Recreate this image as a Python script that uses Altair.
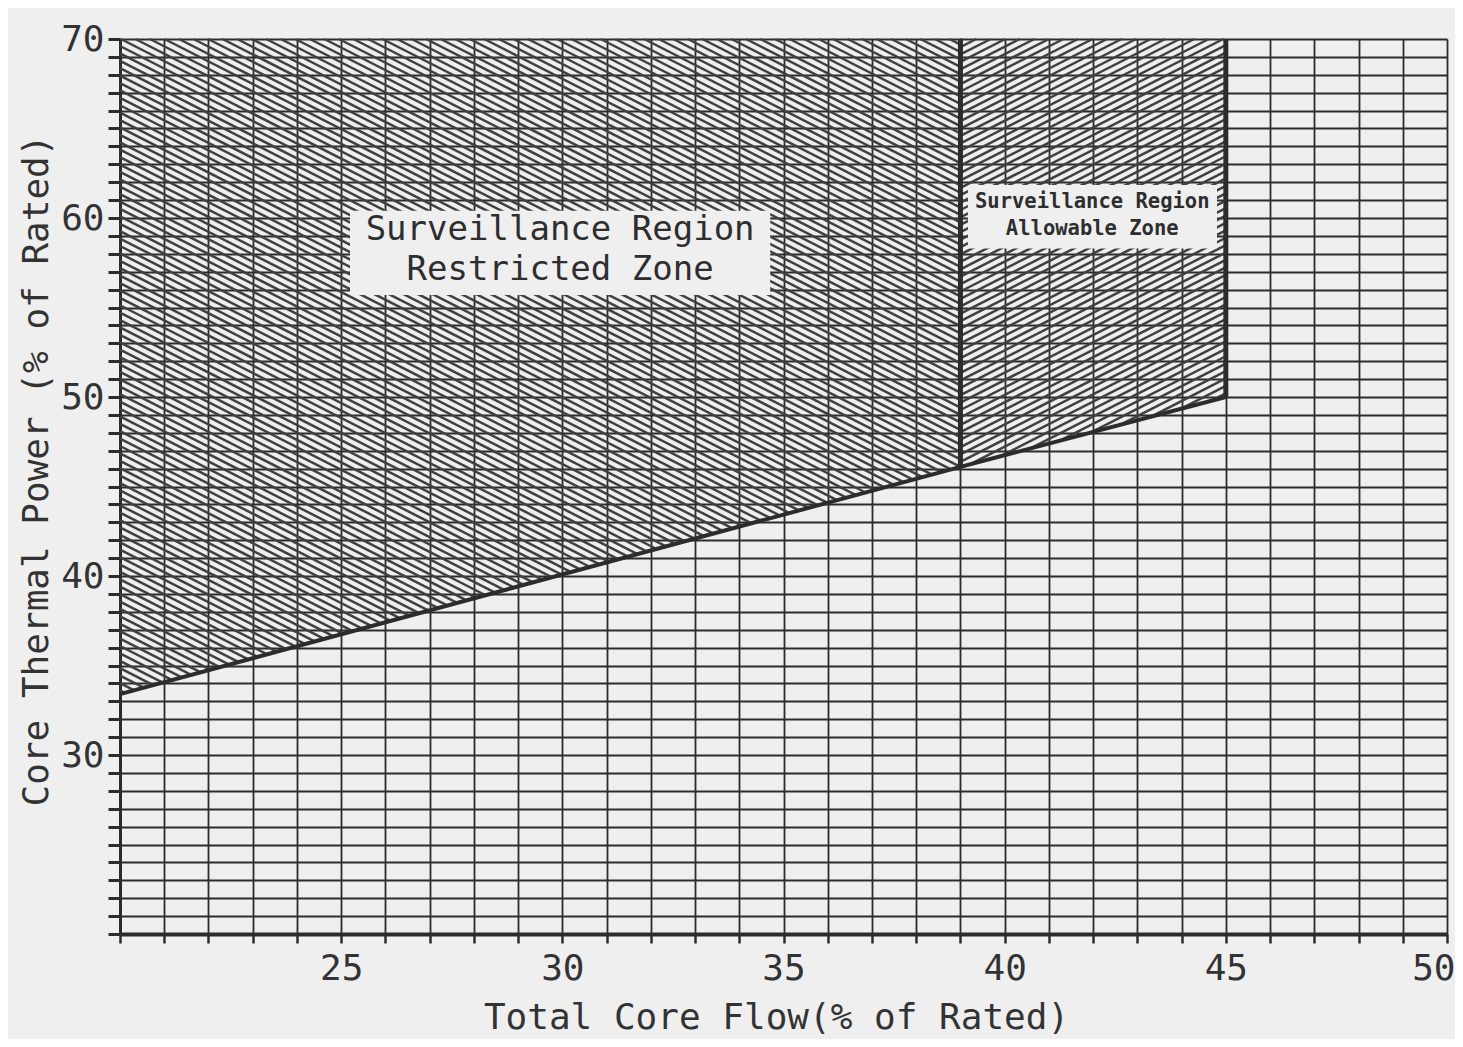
import altair as alt
import pandas as pd
import numpy as np

# ---------------- data ----------------
boundary_flow = [20, 39, 45]          # Total core flow (% of rated)
boundary_power = [33.4, 46.1, 50.0]   # Core thermal power (% of rated)
power_top = 70

x_ticks = list(range(20, 51))
y_ticks = list(range(20, 71))
x_labels = [25, 30, 35, 40, 45, 50]
y_labels = [30, 40, 50, 60, 70]

# annotation boxes (data coordinates)
box_x = [25.2, 39.17]
box_x2 = [34.7, 44.8]
box_y = [55.7, 58.3]
box_y2 = [60.4, 61.85]

text_lines = ["Surveillance Region", "Restricted Zone",
              "Surveillance Region", "Allowable Zone"]
text_x = [29.95, 29.95, 41.98, 41.98]
text_y = [59.33, 57.09, 60.9, 59.4]
text_group = ["big", "big", "small", "small"]

# ---------------- layout / style ----------------
W, H = 1327, 895
XD, YD = (20, 50), (20, 70)
BG = "#efefef"
INK = "#2c2c2c"
HATCH = "#404040"
FONT = "DejaVu Sans Mono"
px_x = W / (XD[1] - XD[0])
px_y = H / (YD[1] - YD[0])


def hatch_segments(xa, xb, ya, yb, top, slash, spacing=6.6, angle=27):
    """Hatch strokes clipped to the zone xa..xb between the boundary line and top."""
    th = np.radians(angle)
    m = np.tan(th) * px_x / px_y * (1 if slash else -1)   # slope in data units
    sb = (yb - ya) / (xb - xa)
    dc = spacing / np.cos(th) / px_y
    verts = [(xa, ya), (xb, yb), (xa, top), (xb, top)]
    cs = [vy - m * (vx - xa) for vx, vy in verts]
    cmin, cmax = min(cs), max(cs)
    rows = []
    c = cmin + dc * 0.5
    while c < cmax:
        lo, hi = 0.0, xb - xa
        if m > 0:
            hi = min(hi, (top - c) / m)
        else:
            lo = max(lo, (top - c) / m)
        d = m - sb
        if d > 0:
            lo = max(lo, (ya - c) / d)
        elif d < 0:
            hi = min(hi, (ya - c) / d)
        if hi > lo:
            rows.append({"x": xa + lo, "y": c + m * lo, "x2": xa + hi, "y2": c + m * hi})
        c += dc
    return pd.DataFrame(rows)


hatch_left = hatch_segments(boundary_flow[0], boundary_flow[1],
                            boundary_power[0], boundary_power[1], power_top, slash=False)
hatch_right = hatch_segments(boundary_flow[1], boundary_flow[2],
                             boundary_power[1], boundary_power[2], power_top, slash=True)
hatch_df = pd.concat([hatch_left, hatch_right], ignore_index=True)

bnd = pd.DataFrame({"flow": boundary_flow, "power": boundary_power, "top": power_top})

xs = alt.Scale(domain=list(XD), nice=False, zero=False)
ys = alt.Scale(domain=list(YD), nice=False, zero=False)

xlab = ",".join(str(v) for v in x_labels)
ylab = ",".join(str(v) for v in y_labels)

x_axis = alt.Axis(values=x_ticks, tickCount=len(x_ticks), grid=True, gridColor=INK,
                  gridWidth=1.8, tickSize=9, tickWidth=2.5, tickColor=INK,
                  domainColor=INK, domainWidth=4,
                  labelExpr=f"indexof([{xlab}], datum.value) >= 0 ? datum.label : ''",
                  labelFlush=True, labelFlushOffset=8, labelOverlap=False, labelFont=FONT,
                  labelFontSize=36, labelColor="#333", labelPadding=8,
                  title="Total Core Flow(% of Rated)", titleFont=FONT,
                  titleFontSize=36, titleFontWeight="normal", titleColor="#333",
                  titleX=656, titleY=94, titleBaseline="alphabetic", titleAlign="center")
y_axis = alt.Axis(values=y_ticks, tickCount=len(y_ticks), grid=True, gridColor=INK,
                  gridWidth=1.8, tickSize=12, tickWidth=3, tickColor=INK,
                  domainColor=INK, domainWidth=3,
                  labelExpr=f"indexof([{ylab}], datum.value) >= 0 ? datum.label : ''",
                  labelFlush=False, labelOverlap=False, labelFont=FONT,
                  labelFontSize=36, labelColor="#333", labelPadding=4,
                  title="Core Thermal Power (% of Rated)", titleFont=FONT,
                  titleFontSize=36, titleFontWeight="normal", titleColor="#333",
                  titleX=-73, titleY=431, titleBaseline="alphabetic", titleAlign="center",
                  titleAngle=270)

hatch = alt.Chart(hatch_df).mark_rule(color=HATCH, strokeWidth=2.5, strokeCap="butt").encode(
    x=alt.X("x:Q", scale=xs, axis=x_axis),
    y=alt.Y("y:Q", scale=ys, axis=y_axis),
    x2="x2:Q", y2="y2:Q",
)

line = alt.Chart(bnd).mark_line(color=INK, strokeWidth=4).encode(
    x=alt.X("flow:Q", scale=xs), y=alt.Y("power:Q", scale=ys))

walls = alt.Chart(bnd.iloc[1:3]).mark_rule(color=INK, strokeWidth=5).encode(
    x=alt.X("flow:Q", scale=xs), y=alt.Y("power:Q", scale=ys), y2="top:Q")

boxes = alt.Chart(pd.DataFrame({"x": box_x, "x2": box_x2, "y": box_y, "y2": box_y2})
                  ).mark_rect(fill=BG).encode(
    x=alt.X("x:Q", scale=xs), x2="x2:Q", y=alt.Y("y:Q", scale=ys), y2="y2:Q")

tdf = pd.DataFrame({"t": text_lines, "x": text_x, "y": text_y, "g": text_group})
big_text = alt.Chart(tdf[tdf.g == "big"]).mark_text(
    font=FONT, fontSize=34, color="#2e2e2e", align="center", baseline="middle"
).encode(x=alt.X("x:Q", scale=xs), y=alt.Y("y:Q", scale=ys), text="t:N")
small_text = alt.Chart(tdf[tdf.g == "small"]).mark_text(
    font=FONT, fontSize=20.5, fontWeight="bold", color="#2e2e2e", align="center",
    baseline="middle"
).encode(x=alt.X("x:Q", scale=xs), y=alt.Y("y:Q", scale=ys), text="t:N")

chart = alt.layer(hatch, line, walls, boxes, big_text, small_text).properties(
    width=W, height=H,
    padding={"left": 112, "top": 31, "right": 8, "bottom": 105},
    autosize=alt.AutoSizeParams(type="none"),
    background=BG,
).configure_view(stroke=None)

chart.save("out.html", embed_options={"renderer": "svg", "actions": False})
